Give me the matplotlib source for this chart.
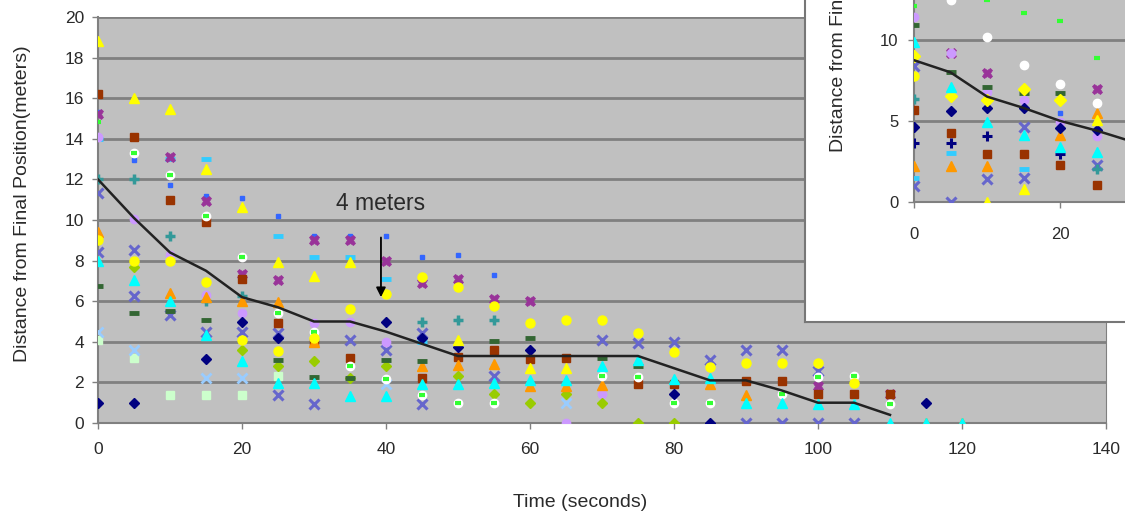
import numpy as np
import matplotlib.pyplot as plt

plt.rcParams['font.family'] = ['Liberation Sans', 'DejaVu Sans']

nan = np.nan

# time axis (seconds)
times = [0, 5, 10, 15, 20, 25, 30, 35, 40, 45, 50, 55, 60,
         65, 70, 75, 80, 85, 90, 95, 100, 105, 110, 115, 120]

# average distance line
avg_times = [0, 5, 10, 15, 20, 25, 30, 35, 40, 45, 50, 55, 60,
             65, 70, 75, 80, 85, 90, 95, 100, 105, 110]
avg_dist = [12.0, 10.1, 8.4, 7.5, 6.2, 5.7, 5.0, 5.0, 4.5, 3.9, 3.3, 3.3, 3.3,
            3.3, 3.3, 3.3, 2.7, 2.1, 2.1, 1.6, 1.0, 1.0, 0.4]

# individual students, one list per marker style
navy_d = [1.0, 1.0, nan, 3.15, 5.0, 4.2, nan, nan, 4.97, 4.2, 3.75, nan, 3.6,
          nan, nan, nan, 1.43, 0.0, nan, nan, nan, nan, nan, 1.0, nan]
brown_s = [16.2, 14.1, 11.0, 9.9, 7.1, 4.95, 4.0, 3.2, nan, 2.2, 3.25, 3.6, 3.15,
           3.2, nan, 1.92, 1.9, nan, 2.05, 2.05, 1.45, 1.45, 1.45, nan, nan]
yellow_t = [18.8, 16.0, 15.45, 12.5, 10.65, 7.95, 7.25, 7.95, nan, nan, 4.1, nan, 2.7,
            2.7, nan, nan, nan, nan, nan, nan, nan, nan, nan, nan, nan]
cyan_t = [8.0, 7.05, 6.0, 4.35, 3.05, 1.95, 1.95, 1.33, 1.33, 1.9, 1.9, 1.95, 2.1,
          2.1, 2.8, 3.1, 2.15, 2.2, 0.97, 0.97, 0.94, 0.94, 0.0, 0.0, 0.0]
slate_x1 = [11.35, 8.5, 5.3, 4.5, 4.5, 4.45, nan, 4.1, 3.6, 4.45, nan, nan, nan,
            nan, 4.1, 3.95, 4.0, 3.1, 3.6, 3.6, 2.58, nan, nan, nan, nan]
slate_x2 = [8.4, 6.25, nan, nan, nan, 1.4, 0.95, nan, nan, 0.95, nan, 2.3, nan,
            nan, nan, nan, nan, nan, 0.0, 0.0, 0.0, 0.0, nan, nan, nan]
purple_h = [15.2, nan, 13.1, 10.95, 7.35, 7.05, 9.0, 9.0, 8.0, 6.9, 7.1, 6.1, 6.0,
            nan, nan, nan, nan, nan, nan, nan, 1.82, nan, 1.45, nan, nan]
teal_p = [12.0, 12.0, 9.2, 6.0, 6.25, nan, nan, nan, nan, 4.97, 5.05, 5.05, nan,
          nan, nan, nan, nan, nan, nan, nan, nan, nan, nan, nan, nan]
dkgreen_dash = [6.75, 5.4, 5.5, 5.07, nan, 3.1, 2.25, 2.2, 3.1, 3.05, nan, 4.05, 4.17,
                nan, 3.2, 2.8, nan, nan, nan, nan, nan, nan, nan, nan, nan]
ltgreen_s = [4.1, 3.2, 1.4, 1.4, 1.4, 2.3, nan, nan, nan, nan, nan, nan, nan,
             nan, nan, nan, nan, nan, nan, nan, nan, nan, nan, nan, nan]
ygreen_d = [nan, 7.7, nan, nan, 3.6, 2.8, 3.05, 2.2, 2.8, nan, 2.3, 1.43, 0.97,
            1.43, 0.97, 0.0, 0.0, nan, nan, nan, nan, nan, nan, nan, nan]
orange_t = [9.4, nan, 6.4, 6.2, 6.0, 5.97, 4.0, nan, nan, 2.8, 2.85, 2.9, 1.8,
            1.8, 1.85, nan, nan, 1.9, 1.4, nan, nan, nan, nan, 0.0, 0.0]
lavender_o = [14.1, 10.05, 8.3, 6.3, 5.4, nan, 4.95, 4.97, 4.0, nan, nan, nan, nan,
              0.0, 1.43, nan, nan, nan, nan, nan, nan, nan, nan, nan, nan]
yellow_o = [9.0, 8.0, 8.0, 6.95, 4.1, 3.55, 4.2, 5.6, 6.35, 7.2, 6.7, 5.75, 4.95,
            5.05, 5.05, 4.42, 3.5, 2.75, 2.95, 2.95, 2.97, 1.98, nan, nan, nan]
white_o = [nan, 13.3, 12.2, 10.2, 8.2, 5.4, 4.5, 2.8, 2.15, 1.4, 0.97, 0.97, nan,
           nan, 2.3, 2.25, 0.97, 0.97, nan, 1.43, 2.25, 2.3, 0.94, nan, nan]
green_dash = [14.85, 13.3, 12.2, 10.2, 8.2, 5.4, 4.5, 2.8, 2.15, 1.4, 0.97, 0.97, nan,
              nan, 2.3, 2.25, 0.97, 0.97, nan, 1.43, 2.25, 2.3, 0.94, nan, nan]
cyan_dash = [14.0, nan, 13.0, 13.0, nan, 9.2, 8.2, 8.2, 7.1, 4.0, nan, nan, nan,
             nan, nan, nan, nan, nan, nan, nan, nan, nan, nan, nan, nan]
blue_dash = [15.3, 12.95, 11.7, 11.2, 11.1, 10.2, 9.2, 9.2, 9.2, 8.2, 8.27, 7.3, nan,
             nan, nan, nan, nan, nan, nan, nan, nan, nan, nan, nan, nan]
ltblue_x = [4.5, 3.6, nan, 2.2, 2.2, nan, nan, nan, 1.9, nan, nan, nan, nan,
            0.97, nan, nan, nan, nan, nan, nan, nan, nan, nan, nan, nan]

# inset chart (second class)
in_times = [0, 5, 10, 15, 20, 25]
in_avg_times = [0, 5, 10, 15, 20, 25, 30]
in_avg = [8.75, 8.0, 6.5, 5.8, 5.0, 4.4, 3.7]
in_green_dash = [12.1, nan, 12.5, 11.65, 11.15, 8.9]
in_white_o = [nan, 12.45, 10.2, 8.45, 7.3, 6.1]
in_lavender_o = [11.45, 9.2, 6.8, 6.3, 4.95, 4.05]
in_purple_h = [nan, 9.2, 7.95, nan, nan, 7.0]
in_dkgreen_dash = [10.9, 8.0, 7.1, 6.7, 6.7, nan]
in_cyan_t = [9.9, 7.1, 4.95, 4.1, 3.4, 3.1]
in_yellow_o = [9.0, 6.55, 6.3, 7.0, 6.3, nan]
in_yellow2_o = [7.75, nan, nan, nan, nan, nan]
in_slate_x = [8.4, 0.0, 1.4, 4.65, nan, 2.3]
in_slate_x2 = [0.95, nan, nan, 1.45, nan, nan]
in_teal_p = [6.35, nan, nan, nan, nan, 2.0]
in_brown_s = [5.67, 4.25, 2.95, 2.95, 2.3, 1.05]
in_navy_d = [4.65, 5.6, 5.8, 5.8, 4.55, 4.45]
in_navy_p = [3.6, 3.6, 4.05, nan, 2.95, nan]
in_orange_t = [2.2, 2.2, 2.2, nan, 4.15, 5.5]
in_cyan_dash = [1.45, 3.0, nan, 2.05, nan, nan]
in_yellow_t = [nan, nan, 0.0, 0.8, nan, 5.05]
in_blue_dash = [nan, nan, nan, nan, 5.5, nan]

W, H = 1125, 519
fig = plt.figure(figsize=(W / 100, H / 100), dpi=100)
fig.patch.set_facecolor('white')

BG = '#C0C0C0'
GRID = '#808080'
TXT = '#2a2a2a'


def style_axes(ax):
    ax.set_facecolor(BG)
    for side in ['top', 'right']:
        ax.spines[side].set_visible(False)
    for side in ['left', 'bottom']:
        ax.spines[side].set_color(GRID)
        ax.spines[side].set_linewidth(1.5)
    ax.yaxis.grid(True, color=GRID, lw=2)
    ax.set_axisbelow(True)
    ax.tick_params(labelcolor=TXT, length=4, width=1, labelsize=12.5,
                   color=GRID)


def markers(ax, x, series):
    for y, m, fc, ec, ms, mew in series:
        ax.plot(x, y, linestyle='none', marker=m, markerfacecolor=fc,
                markeredgecolor=ec, ms=ms, mew=mew, zorder=3)


# ---- main chart
ax = fig.add_axes([98 / W, 1 - 423 / H, 1008 / W, 406 / H])
style_axes(ax)
ax.spines['right'].set_visible(True)
ax.spines['right'].set_color(GRID)
ax.set_xlim(0, 140)
ax.set_ylim(0, 20)
ax.set_xticks(range(0, 141, 20))
ax.set_yticks(range(0, 21, 2))
ax.tick_params(axis='x', pad=10)
ax.tick_params(axis='y', pad=6)

main_series = [
    (blue_dash, 's', '#3366FF', '#3366FF', 3.5, 1),
    (cyan_dash, '_', '#33CCFF', '#33CCFF', 7.5, 3.5),
    (ltgreen_s, 's', '#CCFFCC', '#CCFFCC', 6, 1),
    (ltblue_x, 'x', '#99CCFF', '#99CCFF', 6.5, 2),
    (slate_x2, 'x', '#6666CC', '#6666CC', 6.5, 2.2),
    (slate_x1, 'x', '#6666CC', '#6666CC', 6.5, 2.2),
    (teal_p, '+', '#339999', '#339999', 7.5, 2.5),
    (purple_h, 'X', '#993399', '#993399', 7.5, 0.5),
    (brown_s, 's', '#993300', '#993300', 6, 1),
    (lavender_o, 'o', '#CC99FF', '#CC99FF', 6, 1),
    (ygreen_d, 'D', '#99CC00', '#99CC00', 5, 1),
    (orange_t, '^', '#FF9900', '#FF9900', 6.5, 1),
    (dkgreen_dash, '_', '#336633', '#336633', 6.5, 3.5),
    (white_o, 'o', 'white', 'white', 6, 1),
    (green_dash, '_', '#33FF33', '#33FF33', 4, 3),
    (navy_d, 'D', '#000080', '#000080', 5.5, 1),
    (yellow_o, 'o', '#FFFF00', '#FFFF00', 6.5, 1),
    (cyan_t, '^', '#00FFFF', '#00FFFF', 7, 1),
    (yellow_t, '^', '#FFFF00', '#FFFF00', 7, 1),
]
markers(ax, times, main_series)
ax.plot(avg_times, avg_dist, color='#222222', lw=1.8, zorder=4)

ax.annotate('4 meters', xy=(39.3, 6.2), xytext=(39.3, 10.8),
            ha='center', va='center', fontsize=16.5, color=TXT,
            arrowprops=dict(arrowstyle='-|>', color='black', lw=1.3,
                            shrinkA=14, shrinkB=0, mutation_scale=14),
            zorder=5)

ax.set_xlabel('Time (seconds)', fontsize=14, color=TXT)
ax.xaxis.set_label_coords(0.478, -0.175)
ax.set_ylabel('Distance from Final Position(meters)', fontsize=14, color=TXT)
ax.yaxis.set_label_coords(-0.066, 0.539)

# ---- inset frame (white box, partly off the figure)
frame = fig.add_axes([805 / W, 1 - 322 / H, 0.5, 0.8])
frame.set_facecolor('white')
frame.set_xticks([])
frame.set_yticks([])
for side in frame.spines.values():
    side.set_color('#777777')
    side.set_linewidth(1.5)

# ---- inset chart
inh = 25 * 16.17
ax2 = fig.add_axes([914 / W, 1 - 201.7 / H, 1022 / W, inh / H])
style_axes(ax2)
ax2.set_xlim(0, 140)
ax2.set_ylim(0, 25)
ax2.set_xticks([0, 20])
ax2.set_yticks([0, 5, 10])
ax2.tick_params(axis='x', pad=14, labelsize=12)
ax2.tick_params(axis='y', pad=7, labelsize=12)

inset_series = [
    (in_blue_dash, 's', '#3366FF', '#3366FF', 3.5, 1),
    (in_cyan_dash, '_', '#33CCFF', '#33CCFF', 7.5, 3.5),
    (in_slate_x, 'x', '#6666CC', '#6666CC', 6.5, 2.2),
    (in_slate_x2, 'x', '#6666CC', '#6666CC', 6.5, 2.2),
    (in_teal_p, '+', '#339999', '#339999', 7.5, 2.5),
    (in_purple_h, 'X', '#993399', '#993399', 7.5, 0.5),
    (in_brown_s, 's', '#993300', '#993300', 6, 1),
    (in_lavender_o, 'o', '#CC99FF', '#CC99FF', 6, 1),
    (in_orange_t, '^', '#FF9900', '#FF9900', 6.5, 1),
    (in_dkgreen_dash, '_', '#336633', '#336633', 6.5, 3.5),
    (in_white_o, 'o', 'white', 'white', 6, 1),
    (in_green_dash, '_', '#33FF33', '#33FF33', 4, 3),
    (in_navy_d, 'D', '#000080', '#000080', 5.5, 1),
    (in_navy_p, '+', '#000080', '#000080', 6.5, 2.2),
    (in_yellow_o, 'D', '#FFFF00', '#FFFF00', 6, 1),
    (in_yellow2_o, 'o', '#FFFF00', '#FFFF00', 6.5, 1),
    (in_cyan_t, '^', '#00FFFF', '#00FFFF', 7, 1),
    (in_yellow_t, '^', '#FFFF00', '#FFFF00', 7, 1),
]
markers(ax2, in_times, inset_series)
ax2.plot(in_avg_times, in_avg, color='#222222', lw=1.8, zorder=4)
# the reference shows this label cut off at the top edge as well
ax2.set_ylabel('Distance from Final Position (meters)', fontsize=14, color=TXT)
ax2.yaxis.set_label_coords(-0.066, 0.52)

fig.savefig('out.png', dpi=100, facecolor='white')
